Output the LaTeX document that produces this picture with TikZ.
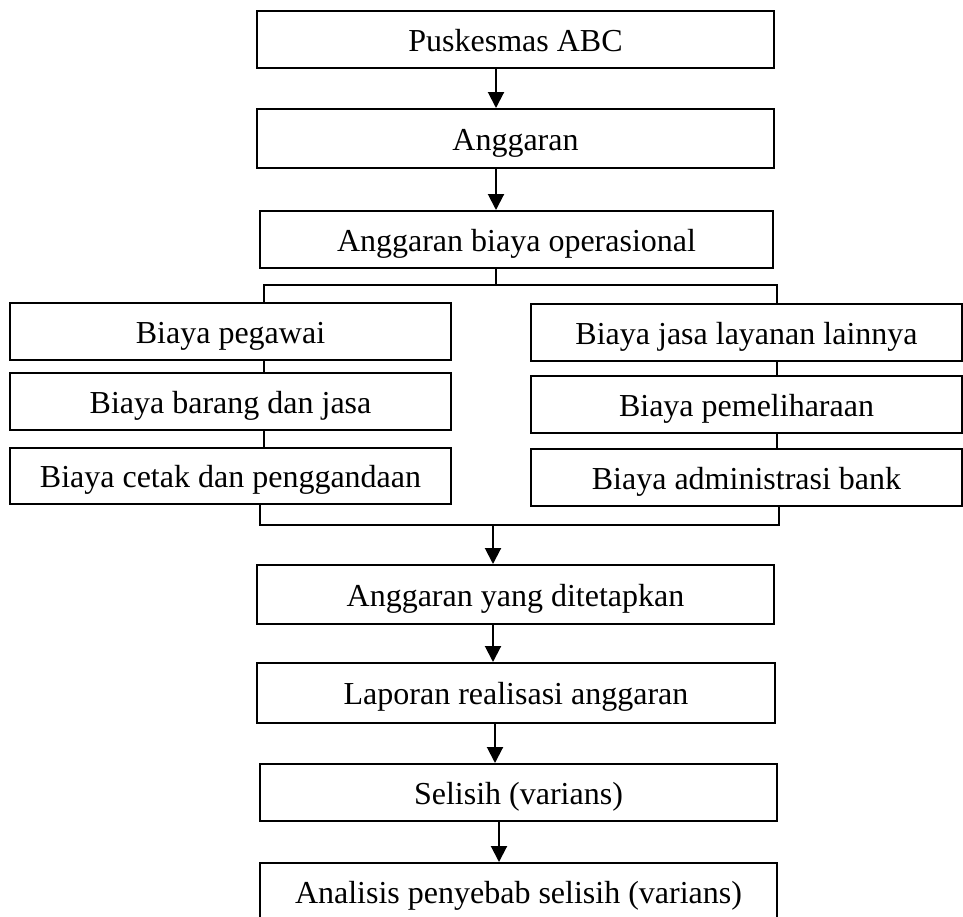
\documentclass[tikz,border=0pt]{standalone}
\usepackage{fontspec}
\setmainfont{Liberation Serif}
\usetikzlibrary{arrows.meta}
\tikzset{
  box/.style={draw, line width=2pt, inner sep=0pt, text height=31pt, text depth=8pt,
    font=\fontsize{32}{38}\selectfont},
  flow/.style={line width=2pt, -{Triangle[length=16pt,width=16pt]}},
  link/.style={line width=2pt},
}
\begin{document}
\begin{tikzpicture}[x=1pt,y=-1pt]
\useasboundingbox (0,0) rectangle (963,916);

\node[box, minimum width=517pt, minimum height=57pt] (puskesmas) at (515.5,39.5) {Puskesmas ABC};
\node[box, minimum width=517pt, minimum height=59pt] (anggaran) at (515.5,138.5) {Anggaran};
\node[box, minimum width=513pt, minimum height=57pt] (operasional) at (516.5,239.5) {Anggaran biaya operasional};

\node[box, minimum width=441pt, minimum height=57pt] (pegawai) at (230.5,331.5) {Biaya pegawai};
\node[box, minimum width=441pt, minimum height=57pt] (barang) at (230.5,401.5) {Biaya barang dan jasa};
\node[box, minimum width=441pt, minimum height=56pt] (cetak) at (230.5,476) {Biaya cetak dan penggandaan};

\node[box, minimum width=431pt, minimum height=57pt] (layanan) at (746.5,332.5) {Biaya jasa layanan lainnya};
\node[box, minimum width=431pt, minimum height=57pt] (pemeliharaan) at (746.5,404.5) {Biaya pemeliharaan};
\node[box, minimum width=431pt, minimum height=57pt] (bank) at (746.5,477.5) {Biaya administrasi bank};

\node[box, minimum width=517pt, minimum height=59pt] (ditetapkan) at (515.5,594.5) {Anggaran yang ditetapkan};
\node[box, minimum width=518pt, minimum height=60pt] (laporan) at (516,693) {Laporan realisasi anggaran};
\node[box, minimum width=517pt, minimum height=57pt] (selisih) at (518.5,792.5) {Selisih (varians)};
\node[box, minimum width=517pt, minimum height=58pt] (analisis) at (518.5,892) {Analisis penyebab selisih (varians)};

\coordinate (topaxis) at (496,0);
\coordinate (split) at (496,285);
\coordinate (lx) at (264,285);
\coordinate (rx) at (777,285);
\coordinate (ml) at (260,525);
\coordinate (mr) at (779,525);
\coordinate (merge) at (493,525);
\coordinate (lowaxis) at (495,0);
\coordinate (endaxis) at (499,0);

\draw[flow] (puskesmas.south -| topaxis) -- (anggaran.north -| topaxis);
\draw[flow] (anggaran.south -| topaxis) -- (operasional.north -| topaxis);
\draw[link] (operasional.south -| split) -- (split);
\draw[link] (pegawai.north -| lx) -- (lx) -- (rx) -- (layanan.north -| rx);

\draw[link] (pegawai.south -| lx) -- (barang.north -| lx);
\draw[link] (barang.south -| lx) -- (cetak.north -| lx);
\draw[link] (layanan.south -| rx) -- (pemeliharaan.north -| rx);
\draw[link] (pemeliharaan.south -| rx) -- (bank.north -| rx);

\draw[link] (cetak.south -| ml) -- (ml) -- (mr) -- (bank.south -| mr);
\draw[flow] (merge) -- (ditetapkan.north -| merge);
\draw[flow] (ditetapkan.south -| merge) -- (laporan.north -| merge);
\draw[flow] (laporan.south -| lowaxis) -- (selisih.north -| lowaxis);
\draw[flow] (selisih.south -| endaxis) -- (analisis.north -| endaxis);
\end{tikzpicture}
\end{document}
